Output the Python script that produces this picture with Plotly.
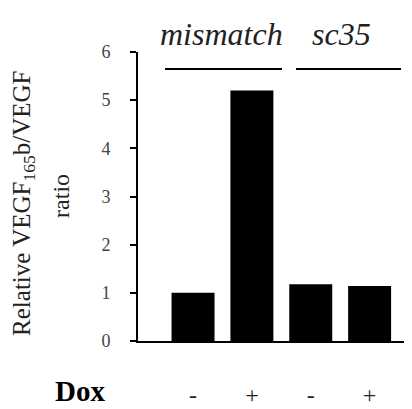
import plotly.graph_objects as go

conditions = ["mismatch -", "mismatch +", "sc35 -", "sc35 +"]
dox_labels = ["-", "+", "-", "+"]
ratios = [1.0, 5.2, 1.18, 1.14]
groups = ["mismatch", "sc35"]
group_members = [[0, 1], [2, 3]]
y_ticks = [0, 1, 2, 3, 4, 5, 6]

xs = list(range(len(conditions)))
serif = "Liberation Serif, Times New Roman, serif"

fig = go.Figure()
fig.add_trace(go.Bar(x=xs, y=ratios, width=0.73,
                     marker=dict(color="black", line=dict(color="black", width=0))))

fig.update_layout(
    width=404, height=401,
    margin=dict(l=130, r=0, t=44, b=68, pad=0, autoexpand=False),
    paper_bgcolor="white", plot_bgcolor="white",
    showlegend=False,
    font=dict(family=serif, color="black"),
    xaxis=dict(range=[-0.935, 3.72], tickmode="array", tickvals=xs, ticktext=dox_labels,
               showline=True, linecolor="black", linewidth=2, ticks="", showgrid=False,
               zeroline=False, tickfont=dict(size=24, color="#222", family=serif),
               ticklabelstandoff=31, automargin=False),
    yaxis=dict(range=[0, 6], tickmode="array", tickvals=y_ticks,
               showline=True, linecolor="black", linewidth=2, ticks="outside", ticklen=6,
               tickwidth=2, tickcolor="black", showgrid=False, zeroline=False,
               tickfont=dict(size=18, color="#444", family=serif), ticklabelstandoff=16,
               automargin=False),
)

# Group labels and lines
line_offsets = [(-0.476, 0.511), (-0.251, 0.533)]
label_offsets = [-0.02, 0.03]
for g, members, (lo_off, hi_off), l_off in zip(groups, group_members, line_offsets, label_offsets):
    lo, hi = members[0], members[-1]
    fig.add_shape(type="line", xref="x", yref="paper", x0=lo + lo_off, x1=hi + hi_off,
                  y0=0.941, y1=0.941, line=dict(color="black", width=2))
    fig.add_annotation(x=(lo + hi) / 2 + l_off, y=1.062, xref="x", yref="paper",
                       text="<i>%s</i>" % g, showarrow=False,
                       font=dict(size=32, family=serif, color="#222"),
                       xanchor="center", yanchor="middle")

# Y-axis title (two lines)
fig.add_annotation(xref="paper", yref="paper", x=-0.42, y=0.4775,
                   text="Relative VEGF<sub>165</sub>b/VEGF", textangle=-90, showarrow=False,
                   font=dict(size=25, family=serif, color="#222"),
                   xanchor="center", yanchor="middle")
fig.add_annotation(xref="paper", yref="paper", x=-0.281, y=0.502,
                   text="ratio", textangle=-90, showarrow=False,
                   font=dict(size=24, family=serif, color="#222"),
                   xanchor="center", yanchor="middle")

# Dox label
fig.add_annotation(xref="paper", yref="paper", x=-0.212, y=-0.172, text="<b>Dox</b>",
                   showarrow=False, font=dict(size=29, family=serif, color="black"),
                   xanchor="center", yanchor="middle")

fig.write_html("out.html")
